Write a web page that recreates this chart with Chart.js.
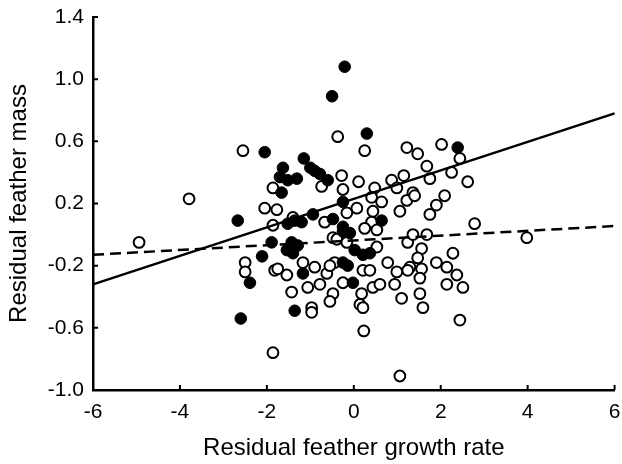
<!DOCTYPE html>
<html>
<head>
<meta charset="utf-8">
<script src="https://cdn.jsdelivr.net/npm/chart.js@4"></script>
<style>
  html, body { margin: 0; padding: 0; background: #fff; }
  #wrap { width: 622px; height: 464px; }
</style>
</head>
<body>
<div id="wrap"><canvas id="featherChart" width="622" height="464"></canvas></div>
<script>
// ticks
const xTicks = [-6, -4, -2, 0, 2, 4, 6];
const yTicks = [-1.0, -0.6, -0.2, 0.2, 0.6, 1.0, 1.4];

// filled circles
const filledX = [-0.21, -0.50, 0.30, -2.05, 2.39, -1.15, -1.63, -1.00, -0.90, -0.78,
  -1.70, -1.52, -1.31, -0.60, -1.66, -0.25, -2.67, -1.52, -1.36, -1.20,
  -0.94, -0.48, 0.64, -0.25, -0.25, -0.09, -1.89, -1.43, -1.54, -1.40,
  -2.11, -2.39, -1.17, -1.36, -2.60, 0.02, 0.21, 0.37, -0.25, -0.14,
  -0.02, -1.29];
const filledY = [1.08, 0.89, 0.65, 0.53, 0.56, 0.49, 0.43, 0.43, 0.41, 0.39,
  0.37, 0.35, 0.36, 0.35, 0.27, 0.21, 0.09, 0.07, 0.09, 0.08,
  0.13, 0.10, 0.09, 0.05, 0.02, 0.01, -0.05, -0.05, -0.10, -0.12,
  -0.14, -0.31, -0.25, -0.49, -0.54, -0.10, -0.13, -0.12, -0.18, -0.20,
  -0.31, -0.07];

// open circles
const openX = [-4.94, -3.79, -2.55, -1.86, -0.74, -2.05, -1.77, -1.86, -1.40, -0.67,
  -0.37, 0.25, 1.22, 1.47, 2.02, 2.44, 1.68, 2.25, 2.62, -0.28,
  -0.25, 0.11, 0.48, 0.87, 1.15, 0.99, 0.41, 1.36, 2.09, 1.90,
  1.22, 0.64, 0.07, 0.44, 1.06, 1.75, 0.41, 0.25, 0.53, -2.50,
  -2.50, -1.82, -1.75, -1.54, -1.17, -0.90, -0.62, -1.43, -1.06, -0.78,
  -0.48, -0.55, -0.97, -0.97, -0.48, -0.39, -0.44, -0.55, -0.16, 0.53,
  0.21, 0.37, 0.18, 0.14, 0.21, 0.44, 0.60, 0.78, 0.99, 0.94,
  1.10, 1.29, 1.24, 1.56, 1.24, 1.68, 1.36, 1.47, 1.56, 1.52,
  1.52, 1.59, 1.90, 2.14, 2.28, 2.37, 2.14, 2.51, 2.44, 0.23,
  -1.86, 1.06, 3.98, 2.78, -0.25, 1.75, 1.40, -0.16];
const openY = [-0.05, 0.23, 0.54, 0.30, 0.31, 0.17, 0.16, 0.06, 0.11, 0.08,
  0.63, 0.54, 0.56, 0.52, 0.58, 0.49, 0.44, 0.40, 0.34, 0.38,
  0.29, 0.34, 0.30, 0.35, 0.38, 0.30, 0.24, 0.27, 0.25, 0.19,
  0.22, 0.21, 0.17, 0.15, 0.15, 0.13, 0.08, 0.04, 0.03, -0.18,
  -0.24, -0.23, -0.22, -0.26, -0.18, -0.21, -0.25, -0.37, -0.34, -0.32,
  -0.38, -0.43, -0.47, -0.50, -0.02, -0.03, -0.18, -0.20, -0.05, -0.08,
  -0.23, -0.23, -0.38, -0.45, -0.47, -0.34, -0.32, -0.18, -0.24, -0.32,
  -0.41, -0.21, -0.23, -0.09, -0.05, 0.00, 0.00, -0.15, -0.22, -0.28,
  -0.38, -0.47, -0.18, -0.21, -0.12, -0.26, -0.32, -0.34, -0.55, -0.62,
  -0.76, -0.91, -0.02, 0.07, -0.31, 0.36, 0.25, 0.14];

// regression lines (ends at x = -6 and x = 6)
const lineX = [-6, 6];
const solidY = [-0.32, 0.78];
const dashedY = [-0.13, 0.055];

const toPoints = (xs, ys) => xs.map((x, i) => ({ x: x, y: ys[i] }));

// small inward tick marks, placed through the scales
const inwardTicks = {
  id: 'inwardTicks',
  afterDraw(chart) {
    const ctx = chart.ctx;
    const xs = chart.scales.x;
    const ys = chart.scales.y;
    ctx.save();
    ctx.strokeStyle = '#000';
    ctx.lineWidth = 2;
    ctx.beginPath();
    xTicks.forEach(v => {
      const px = xs.getPixelForValue(v);
      ctx.moveTo(px, xs.top);
      ctx.lineTo(px, xs.top - 5);
    });
    yTicks.forEach(v => {
      const py = ys.getPixelForValue(v);
      ctx.moveTo(ys.right, py);
      ctx.lineTo(ys.right + 5, py);
    });
    ctx.stroke();
    ctx.restore();
  }
};

const tickFont = { family: 'Liberation Sans', size: 21 };
const titleFont = { family: 'Liberation Sans', size: 24 };

const ctx = document.getElementById('featherChart').getContext('2d');
new Chart(ctx, {
  type: 'scatter',
  data: {
    datasets: [
      {
        label: 'solid',
        data: toPoints(lineX, solidY),
        showLine: true,
        borderColor: '#000',
        borderWidth: 2.5,
        pointRadius: 0,
        order: 0,
        clip: 4
      },
      {
        label: 'dashed',
        data: toPoints(lineX, dashedY),
        showLine: true,
        borderColor: '#000',
        borderWidth: 2.5,
        borderDash: [11, 6],
        pointRadius: 0,
        order: 0,
        clip: 4
      },
      {
        label: 'filled',
        data: toPoints(filledX, filledY),
        backgroundColor: '#000',
        borderColor: '#000',
        borderWidth: 1,
        pointRadius: 5.8,
        order: 1
      },
      {
        label: 'open',
        data: toPoints(openX, openY),
        backgroundColor: '#fff',
        borderColor: '#000',
        borderWidth: 2,
        pointRadius: 5.4,
        order: 2
      }
    ]
  },
  options: {
    responsive: false,
    animation: false,
    layout: { padding: { left: 0, right: 7, top: 17, bottom: 0 } },
    plugins: {
      legend: { display: false },
      tooltip: { enabled: false }
    },
    scales: {
      x: {
        min: -6,
        max: 6,
        afterBuildTicks: scale => { scale.ticks = xTicks.map(v => ({ value: v })); },
        afterFit: scale => {
          scale.height = 74;
          scale.paddingLeft = 0;
          scale.paddingRight = 0;
        },
        grid: { display: false, drawTicks: false },
        border: { display: true, color: '#000', width: 2.5 },
        ticks: {
          color: '#000',
          font: tickFont,
          padding: 10,
          maxRotation: 0,
          callback: v => String(v)
        },
        title: {
          display: true,
          text: 'Residual feather growth rate',
          color: '#000',
          font: titleFont,
          padding: { top: 0, bottom: 1 }
        }
      },
      y: {
        min: -1,
        max: 1.4,
        afterBuildTicks: scale => { scale.ticks = yTicks.map(v => ({ value: v })); },
        afterFit: scale => {
          scale.width = 93;
          scale.paddingTop = 0;
          scale.paddingBottom = 0;
        },
        grid: { display: false, drawTicks: false },
        border: { display: true, color: '#000', width: 2.5 },
        ticks: {
          color: '#000',
          font: tickFont,
          padding: 9,
          callback: v => Number(v).toFixed(1)
        },
        title: {
          display: true,
          text: 'Residual feather mass',
          color: '#000',
          font: titleFont,
          padding: { top: 5, bottom: 0 }
        }
      }
    }
  },
  plugins: [inwardTicks]
});
</script>
</body>
</html>
